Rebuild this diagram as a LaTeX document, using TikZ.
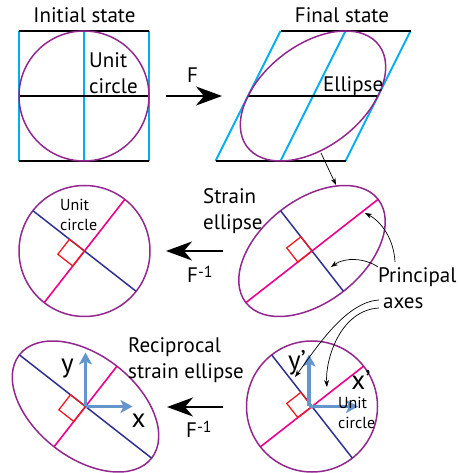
\documentclass[tikz,border=0pt]{standalone}
\usepackage{fontspec}
\setmainfont{PT Sans}
\usetikzlibrary{arrows.meta}
\definecolor{elpurple}{HTML}{92278F}
\definecolor{grcyan}{HTML}{00AEEF}
\definecolor{axpink}{HTML}{EC008C}
\definecolor{axnavy}{HTML}{2E3192}
\definecolor{sqred}{HTML}{ED1C24}
\definecolor{xyblue}{HTML}{6495CD}
\newcommand{\bigtxt}{\fontsize{21}{26}\selectfont}
\newcommand{\smalltxt}{\fontsize{16}{19.5}\selectfont}
\newcommand{\finv}{F\raisebox{5pt}{\fontsize{16}{16}\selectfont -1}}

\begin{document}
\begin{tikzpicture}[x=1pt, y=1pt, font=\bigtxt,
    gridline/.style={grcyan, line width=2pt},
    hline/.style={black, line width=2pt},
    ellline/.style={elpurple, line width=1.5pt},
    pinkaxis/.style={axpink, line width=1.6pt},
    navyaxis/.style={axnavy, line width=1.5pt},
    rightsq/.style={sqred, line width=1.3pt},
    xyarrow/.style={xyblue, line width=3.3pt, -{Stealth[length=12pt, width=13pt, inset=3pt]}},
    bigarrow/.style={line width=2pt, -{Stealth[length=26pt, width=19pt, inset=8pt]}},
    thinarrow/.style={line width=0.7pt, -{Stealth[length=7pt, width=5pt]}},
    txt/.style={inner sep=0pt, align=left}]
  \useasboundingbox (0,0) rectangle (459,473);

  % initial state
  \begin{scope}[shift={(84,377)}]
    \foreach \x in {-65,0,65} \draw[gridline] (\x,-65)--(\x,65);
    \foreach \y in {-65,0,65} \draw[hline] (-65,\y)--(65,\y);
    \draw[ellline] (0,0) circle[radius=65];
  \end{scope}
  \node[txt, anchor=base] (initlbl) at (84.5,450) {Initial state};
  \node[txt, anchor=north west] (unitA) at (89,421) {Unit\\circle};

  % final state (sheared)
  \begin{scope}[shift={(313,377)}, cm={1,0,0.5,1,(0,0)}]
    \foreach \x in {-65,0,65} \draw[gridline] (\x,-65)--(\x,65);
    \foreach \y in {-65,0,65} \draw[hline] (-65,\y)--(65,\y);
    \draw[ellline] (0,0) circle[radius=65];
  \end{scope}
  \node[txt, anchor=base] (finallbl) at (342,450) {Final state};
  \node[txt, anchor=base west] (elllbl) at (323,381) {Ellipse};

  % F
  \coordinate (fA) at (166,377);
  \coordinate (fB) at (222,377);
  \draw[bigarrow] (fA) -- (fB);
  \node[txt, anchor=base west] (flbl) at (187,390) {F};

  % unit circle, middle
  \begin{scope}[shift={(84.5,222)}]
    \draw[ellline] (0,0) circle[radius=65.5];
    \draw[pinkaxis] (232:65.5) -- (52:65.5);
    \draw[navyaxis] (142:65.5) -- (-38:65.5);
    \draw[rightsq, rotate=142] (0,0) rectangle (19,19);
  \end{scope}
  \node[txt, anchor=north west, font=\smalltxt] (unitB) at (60,274) {Unit\\circle};

  % strain ellipse
  \begin{scope}[shift={(312,222)}]
    \draw[ellline, rotate=38] (0,0) ellipse[x radius=83.9, y radius=51.1];
    \draw[pinkaxis] (218:83.9) -- (38:83.9);
    \draw[navyaxis] (128:51.1) -- (-52:51.1);
    \draw[rightsq, rotate=128] (0,0) rectangle (18,18);
  \end{scope}
  \node[txt, anchor=north west] (strainlbl) at (203,285) {Strain\\ellipse};

  % F^-1, middle
  \coordinate (gA) at (223,222);
  \coordinate (gB) at (166,222);
  \draw[bigarrow] (gA) -- (gB);
  \node[txt, anchor=base west] (ginvlbl) at (187,190) {\finv};

  % reciprocal strain ellipse
  \begin{scope}[shift={(85.5,66.5)}]
    \draw[ellline, rotate=-38] (0,0) ellipse[x radius=83.9, y radius=51.1];
    \draw[navyaxis] (142:83.9) -- (-38:83.9);
    \draw[pinkaxis] (232:51.1) -- (52:51.1);
    \draw[rightsq, rotate=142] (0,0) rectangle (19,19);
    \draw[xyarrow] (0,0) -- (0,54);
    \draw[xyarrow] (0,0) -- (47,0);
  \end{scope}
  \node[txt, anchor=base, font=\fontsize{27}{27}\selectfont] (ylbl) at (67.5,100) {y};
  \node[txt, anchor=base, font=\fontsize{27}{27}\selectfont] (xlbl) at (138.5,45) {x};
  \node[txt, anchor=north west] (reciplbl) at (128,136) {Reciprocal\\strain ellipse};

  % F^-1, bottom
  \coordinate (hA) at (223,66);
  \coordinate (hB) at (167,66);
  \draw[bigarrow] (hA) -- (hB);
  \node[txt, anchor=base west] (hinvlbl) at (186,35) {\finv};

  % unit circle, bottom
  \begin{scope}[shift={(312,66.5)}]
    \draw[ellline] (0,0) circle[radius=65.5];
    \draw[pinkaxis] (218:65.5) -- (38:65.5);
    \draw[navyaxis] (128:65.5) -- (-52:65.5);
    \draw[rightsq, rotate=128] (0,0) rectangle (18,18);
    \draw[xyarrow] (-3,0) -- (-3,52);
    \draw[xyarrow] (-3,0) -- (46,0);
  \end{scope}
  \node[txt, anchor=base, font=\fontsize{27}{27}\selectfont] (yplbl) at (297,103) {y’};
  \node[txt, anchor=base, font=\fontsize{27}{27}\selectfont] (xplbl) at (361,83) {x’};
  \node[txt, anchor=north west, font=\smalltxt] (unitC) at (338,76) {Unit\\circle};

  % principal axes
  \node[txt, anchor=base west] (princlbl) at (378,190) {Principal};
  \node[txt, anchor=base west] (axeslbl) at (383,164) {axes};

  % thin arrows
  \coordinate (ellfoot) at (321,320);
  \coordinate (strtop) at (336,288);
  \coordinate (pA) at (395,211);
  \coordinate (pMajor) at (365,260);
  \coordinate (pB) at (378,206);
  \coordinate (pMinor) at (331,206);
  \coordinate (aA) at (379,173);
  \coordinate (aNavy) at (295,96);
  \coordinate (aB) at (379,165);
  \coordinate (aPink) at (327,86);
  \draw[thinarrow] (ellfoot) -- (strtop);
  \draw[thinarrow] (pA) .. controls (394,233) and (382,251) .. (pMajor);
  \draw[thinarrow] (pB) .. controls (365,215) and (345,216) .. (pMinor);
  \draw[thinarrow] (aA) .. controls (345,171) and (315,123) .. (aNavy);
  \draw[thinarrow] (aB) .. controls (340,163) and (325,113) .. (aPink);
\end{tikzpicture}
\end{document}
